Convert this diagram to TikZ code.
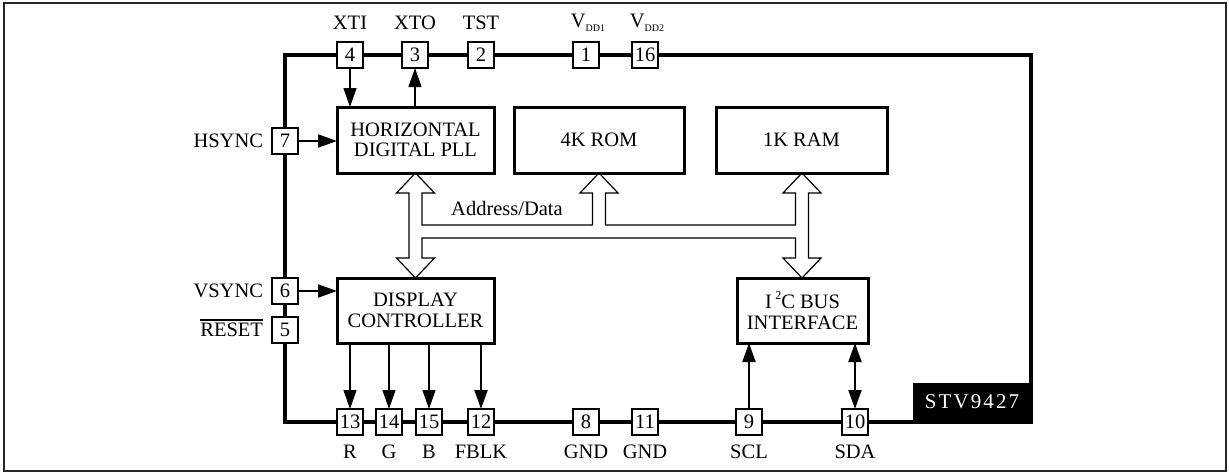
\documentclass[tikz,border=0pt]{standalone}
\usepackage{fontspec}
\setmainfont{Liberation Serif}
\usetikzlibrary{arrows.meta}
\begin{document}
\begin{tikzpicture}[x=1pt,y=-1pt,
  every node/.style={font=\fontsize{20.5}{20.5}\selectfont, inner sep=0pt, outer sep=0pt},
  blockbox/.style={draw, line width=3pt, fill=white, align=center},
  pinbox/.style={draw, line width=1.8pt, fill=white, minimum width=26pt, minimum height=26pt},
  sig/.style={line width=1.2pt, -{Triangle[length=19pt,width=13pt]}},
  sigthick/.style={line width=2pt, -{Triangle[length=19pt,width=13pt]}},
  sigboth/.style={line width=2pt, {Triangle[length=19pt,width=13pt]}-{Triangle[length=19pt,width=13pt]}},
  bus/.style={line width=1.2pt, line join=miter},
  chip/.style={line width=4pt},
  frame/.style={line width=1.6pt, draw=black!85},
]
\useasboundingbox (0,0) rectangle (1229,474);
% outer frame
\draw[frame] (4,3) rectangle (1226,471);
% chip border
\draw[chip] (285,55) rectangle (1031,422);
\fill (913,383) rectangle (1033,424);
\node[text=white, font=\fontsize{21}{21}\selectfont\addfontfeatures{LetterSpace=10}] (name) at (972,402) {STV9427};

% blocks
\node[blockbox, minimum width=157pt, minimum height=66pt] (hpll) at (415.5,140) {HORIZONTAL\\DIGITAL PLL};
\node[blockbox, minimum width=170pt, minimum height=66pt] (rom) at (599,140) {4K ROM};
\node[blockbox, minimum width=171pt, minimum height=66pt] (ram) at (801.5,140) {1K RAM};
\node[blockbox, minimum width=157pt, minimum height=65pt] (disp) at (415.5,310.5) {DISPLAY\\CONTROLLER};
\node[blockbox, minimum width=131pt, minimum height=65pt] (i2c) at (802.5,310.5) {I\,\raisebox{9pt}{\fontsize{12}{12}\selectfont 2}C BUS\\INTERFACE};

% hollow bus
\draw[bus] (415.5,173) -- (434.5,193) -- (422,193) -- (422,225) -- (592.5,225) -- (592.5,193)
  -- (580,193) -- (599,173) -- (618,193) -- (605.5,193) -- (605.5,225) -- (795.5,225)
  -- (795.5,193) -- (783,193) -- (802,173) -- (821,193) -- (808.5,193) -- (808.5,258)
  -- (821,258) -- (802,278) -- (783,258) -- (795.5,258) -- (795.5,238) -- (422,238)
  -- (422,258) -- (434.5,258) -- (415.5,278) -- (396.5,258) -- (409,258) -- (409,193)
  -- (396.5,193) -- cycle;
\node (addr) at (507,208) {Address/Data};

% top pins
\node[pinbox] (p4) at (350,55) {4};
\node[pinbox] (p3) at (415,55) {3};
\node[pinbox] (p2) at (481,55) {2};
\node[pinbox] (p1) at (586,55) {1};
\node[pinbox] (p16) at (645,55) {16};
\node (l4) at (350,23) {XTI};
\node (l3) at (415,23) {XTO};
\node (l2) at (481,23) {TST};
\node (l1) at (588,23) {V\raisebox{-4pt}{\fontsize{10}{10}\selectfont DD1}};
\node (l16) at (647,23) {V\raisebox{-4pt}{\fontsize{10}{10}\selectfont DD2}};

% left pins
\node[pinbox] (p7) at (285,141) {7};
\node[pinbox] (p6) at (285,291) {6};
\node[pinbox] (p5) at (285,330) {5};
\node[anchor=east] (l7) at (263,141) {HSYNC};
\node[anchor=east] (l6) at (263,291) {VSYNC};
\node[anchor=east] (l5) at (263,330) {RESET};
\draw[line width=1.3pt] ([yshift=3pt]l5.north west) -- ([yshift=3pt]l5.north east);

% bottom pins
\node[pinbox] (p13) at (350,422) {13};
\node[pinbox] (p14) at (389,422) {14};
\node[pinbox] (p15) at (429,422) {15};
\node[pinbox] (p12) at (481,422) {12};
\node[pinbox] (p8) at (586,422) {8};
\node[pinbox] (p11) at (645,422) {11};
\node[pinbox] (p9) at (749,422) {9};
\node[pinbox] (p10) at (855,422) {10};
\node (l13) at (350,452) {R};
\node (l14) at (389,452) {G};
\node (l15) at (429,452) {B};
\node (l12) at (481,452) {FBLK};
\node (l8) at (586,452) {GND};
\node (l11) at (645,452) {GND};
\node (l9) at (749,452) {SCL};
\node (l10) at (855,452) {SDA};

% signals
\draw[sig] (p4.south) -- (p4.south |- hpll.north);
\draw[sig] (p3.south |- hpll.north) -- (p3.south);
\draw[sigthick] (p7.east) -- (p7.east -| hpll.west);
\draw[sigthick] (p6.east) -- (p6.east -| disp.west);
\draw[sig] (p13.north |- disp.south) -- (p13.north);
\draw[sig] (p14.north |- disp.south) -- (p14.north);
\draw[sig] (p15.north |- disp.south) -- (p15.north);
\draw[sigthick] (p12.north |- disp.south) -- (p12.north);
\draw[sigthick] (p9.north) -- (p9.north |- i2c.south);
\draw[sigboth] (p10.north |- i2c.south) -- (p10.north);
\end{tikzpicture}
\end{document}
